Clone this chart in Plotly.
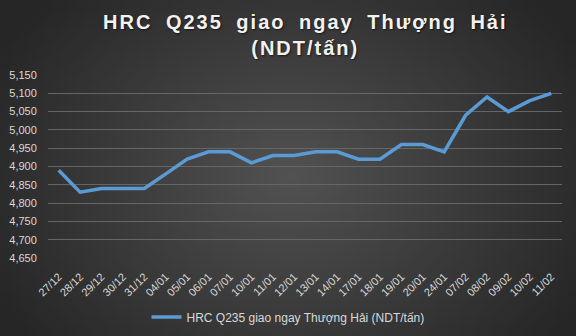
import base64
import struct
import zlib

import plotly.graph_objects as go

dates = ["27/12", "28/12", "29/12", "30/12", "31/12", "04/01", "05/01", "06/01",
         "07/01", "10/01", "11/01", "12/01", "13/01", "14/01", "17/01", "18/01",
         "19/01", "20/01", "24/01", "07/02", "08/02", "09/02", "10/02", "11/02"]
prices = [4890, 4830, 4840, 4840, 4840, 4880, 4920, 4940,
          4940, 4910, 4930, 4930, 4940, 4940, 4920, 4920,
          4960, 4960, 4940, 5040, 5090, 5050, 5080, 5100]
y_ticks = [4650, 4700, 4750, 4800, 4850, 4900, 4950, 5000, 5050, 5100, 5150]
series_name = "HRC Q235 giao ngay Thượng Hải (NDT/tấn)"
title_text = "HRC Q235 giao ngay Thượng Hải<br>(NDT/tấn)"

W, H = 576, 336
ML, MR, MT, MB = 48, 14, 75, 78


def radial_png(w, h, inner, outer):
    rows = []
    cx, cy = w * 0.5, h * 0.52
    rx, ry = w * 0.58, h * 0.78
    for j in range(h):
        row = bytearray([0])
        for i in range(w):
            r = min(1.0, (((i - cx) / rx) ** 2 + ((j - cy) / ry) ** 2) ** 0.5)
            v = int(round(inner + (outer - inner) * r))
            row += bytes([v, v, v])
        rows.append(bytes(row))
    raw = b"".join(rows)

    def chunk(tag, data):
        c = struct.pack(">I", len(data)) + tag + data
        return c + struct.pack(">I", zlib.crc32(tag + data) & 0xffffffff)

    png = b"\x89PNG\r\n\x1a\n"
    png += chunk(b"IHDR", struct.pack(">IIBBBBB", w, h, 8, 2, 0, 0, 0))
    png += chunk(b"IDAT", zlib.compress(raw, 9))
    png += chunk(b"IEND", b"")
    return "data:image/png;base64," + base64.b64encode(png).decode()


bg = radial_png(144, 84, 0x52, 0x26)
pw, ph = W - ML - MR, H - MT - MB

fig = go.Figure()
fig.add_trace(go.Scatter(
    x=dates, y=prices, mode="lines", name=series_name,
    line=dict(color="#5b9bd5", width=3.5),
))

fig.add_layout_image(
    source=bg, xref="paper", yref="paper",
    x=-ML / pw, y=1 + MT / ph, sizex=W / pw, sizey=H / ph,
    xanchor="left", yanchor="top", sizing="stretch", layer="below",
)

fig.add_annotation(
    text=title_text, xref="paper", yref="paper", x=0.5, y=1 + (MT - 35) / ph,
    xanchor="center", yanchor="middle", showarrow=False, align="center",
    font=dict(size=20, color="#f2f2f2", family="Liberation Sans, Arial, sans-serif",
              weight="bold", shadow="1px 1px 2px rgba(0,0,0,0.6)"),
)

fig.update_layout(
    width=W, height=H,
    margin=dict(l=ML, r=MR, t=MT, b=MB),
    paper_bgcolor="#3a3a3a",
    plot_bgcolor="rgba(0,0,0,0)",
    font=dict(family="Liberation Sans, Arial, sans-serif", color="#d9d9d9", size=11),
    showlegend=True,
    legend=dict(
        orientation="h", xref="container", yref="container",
        x=0.5, xanchor="center", y=(H - 317) / H, yanchor="middle",
        font=dict(size=12, color="#d9d9d9"), bgcolor="rgba(0,0,0,0)",
    ),
    xaxis=dict(
        type="category", range=[-0.5, len(dates) - 0.5], tickangle=-45,
        showgrid=False, showline=False, automargin=False,
        ticks="outside", ticklen=7, tickcolor="rgba(0,0,0,0)",
        tickfont=dict(size=11, color="#d9d9d9"),
    ),
    yaxis=dict(
        range=[4650, 5150], tickvals=y_ticks, tickformat=",d",
        showgrid=True, gridcolor="#666666", gridwidth=1,
        zeroline=False, showline=False, automargin=False,
        ticks="outside", ticklen=8, tickcolor="rgba(0,0,0,0)",
        tickfont=dict(size=11, color="#d9d9d9"),
    ),
)

post = """
document.querySelectorAll('.annotation-text').forEach(function(e){
  e.style.letterSpacing = '2px';
  e.style.wordSpacing = '6px';
});
"""
fig.write_html("out.html", post_script=post)
